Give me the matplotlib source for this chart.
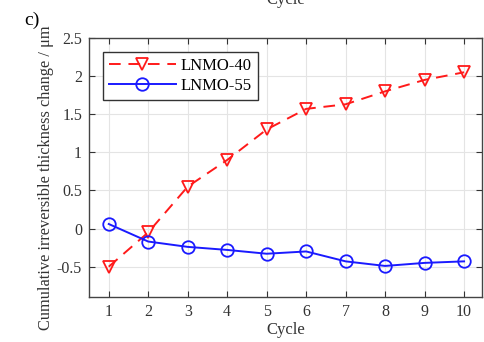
import numpy as np
import matplotlib.pyplot as plt

plt.rcParams['font.family'] = ['Liberation Serif', 'DejaVu Serif']

# -----------------------------
# Data
# -----------------------------
cycles = [1, 2, 3, 4, 5, 6, 7, 8, 9, 10]
lnmo40 = [-0.50, -0.05, 0.55, 0.90, 1.30, 1.57, 1.63, 1.80, 1.95, 2.05]
lnmo55 = [0.06, -0.17, -0.24, -0.28, -0.33, -0.30, -0.43, -0.49, -0.45, -0.43]
yticks = [-0.5, 0, 0.5, 1, 1.5, 2, 2.5]
ytick_labels = ["-0.5", "0", "0.5", "1", "1.5", "2", "2.5"]

# -----------------------------
# Plot
# -----------------------------
fig = plt.figure(figsize=(4.85, 3.42), dpi=100)
ax = fig.add_axes([0.1835, 0.131, 0.810, 0.758])

ax.plot(cycles, lnmo40, '--v', color='#ff1a1a', lw=1.4, ms=9,
        mfc='none', mew=1.3, dashes=(6, 4), label='LNMO-40')
ax.plot(cycles, lnmo55, '-o', color='#1a1aff', lw=1.4, ms=9,
        mfc='none', mew=1.3, label='LNMO-55')

ax.set_xlim(0.5, 10.45)
ax.set_ylim(-0.9, 2.5)
ax.set_xticks(cycles)
ax.set_yticks(yticks)
ax.set_yticklabels(ytick_labels)
ax.grid(True, color='#e4e4e4', lw=0.8)
ax.set_axisbelow(True)
ax.tick_params(direction='in', top=True, right=True, labelsize=11.5,
               colors='#333333', length=4, pad=5)
for s in ax.spines.values():
    s.set_color('#444444')
    s.set_linewidth(1.0)

ax.set_xlabel('Cycle', fontsize=12, color='#333333', labelpad=1)
ax.set_ylabel('Cumulative irreversible thickness change / μm', fontsize=11.8,
              color='#333333')
ax.yaxis.set_label_coords(-0.088, 0.462)

leg = ax.legend(loc='upper left', bbox_to_anchor=(0.036, 0.945), fontsize=12,
                fancybox=False, edgecolor='#333333', framealpha=1,
                handlelength=4.0, borderpad=0.35, labelspacing=0.25,
                handletextpad=0.3, borderaxespad=0)
leg.get_frame().set_linewidth(1.0)

fig.text(0.05, 0.94, 'c)', fontsize=14, va='center')
# label of the panel above, cut by the crop
fig.text(0.59, 1.0, 'Cycle', fontsize=12, color='#333333',
         ha='center', va='center')

fig.savefig('out.png', dpi=100)
